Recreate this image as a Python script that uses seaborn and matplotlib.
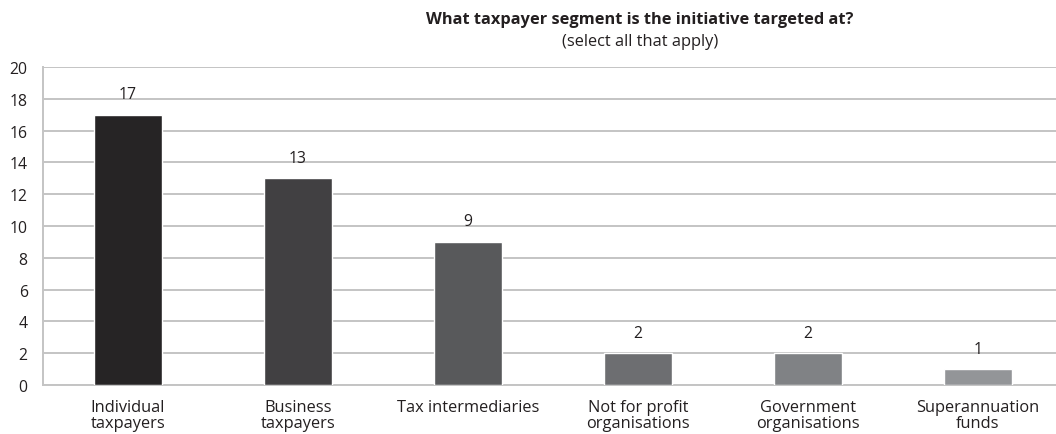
import matplotlib
matplotlib.use("Agg")
import matplotlib.pyplot as plt
import seaborn as sns
import pandas as pd

categories = ["Individual\ntaxpayers", "Business\ntaxpayers", "Tax intermediaries",
              "Not for profit\norganisations", "Government\norganisations", "Superannuation\nfunds"]
counts = [17, 13, 9, 2, 2, 1]
bar_colors = ["#262425", "#414042", "#58595b", "#6d6e71", "#808285", "#939598"]
y_ticks = [0, 2, 4, 6, 8, 10, 12, 14, 16, 18, 20]

sns.set_theme(style="white")
plt.rcParams["font.family"] = ["Open Sans", "DejaVu Sans"]

df = pd.DataFrame({"segment": categories, "count": counts})

fig = plt.figure(figsize=(10.56, 4.35), dpi=100)
ax = fig.add_axes([43 / 1056, 1 - 386 / 435, (1056 - 43) / 1056, (386 - 68) / 435])

sns.barplot(data=df, x="segment", y="count", hue="segment", palette=bar_colors,
            legend=False, width=0.4, saturation=1, ax=ax, zorder=3)

ax.set_ylim(0, 20)
ax.set_xlim(-0.5, 5.5 - 7 / 170)
ax.set_yticks(y_ticks)
ax.yaxis.grid(True, color="#c4c4c4", linewidth=1.4, zorder=0)
ax.set_axisbelow(True)
for side in ["top", "right"]:
    ax.spines[side].set_visible(False)
ax.spines["left"].set_color("#c4c4c4")
ax.spines["left"].set_linewidth(1.4)
ax.spines["bottom"].set_color("#c4c4c4")
ax.spines["bottom"].set_linewidth(1.4)
ax.set_xlabel("")
ax.set_ylabel("")
ax.tick_params(axis="both", length=0, colors="#231f20")
ax.tick_params(axis="y", pad=11, labelsize=11.3)
ax.tick_params(axis="x", pad=10, labelsize=11.8)
for lbl in ax.get_xticklabels():
    lbl.set_linespacing(1.05)

for i, v in enumerate(counts):
    ax.annotate(str(v), (i, v), xytext=(0, 9), textcoords="offset points",
                ha="center", va="bottom", fontsize=11.3, color="#231f20")

fig.text(640 / 1056, 1 - 20 / 435, "What taxpayer segment is the initiative targeted at?",
         ha="center", va="center", fontsize=11.8, fontweight="bold", color="#231f20")
fig.text(640 / 1056, 1 - 42 / 435, "(select all that apply)",
         ha="center", va="center", fontsize=11.8, color="#231f20")

fig.savefig("out.png", dpi=100)
